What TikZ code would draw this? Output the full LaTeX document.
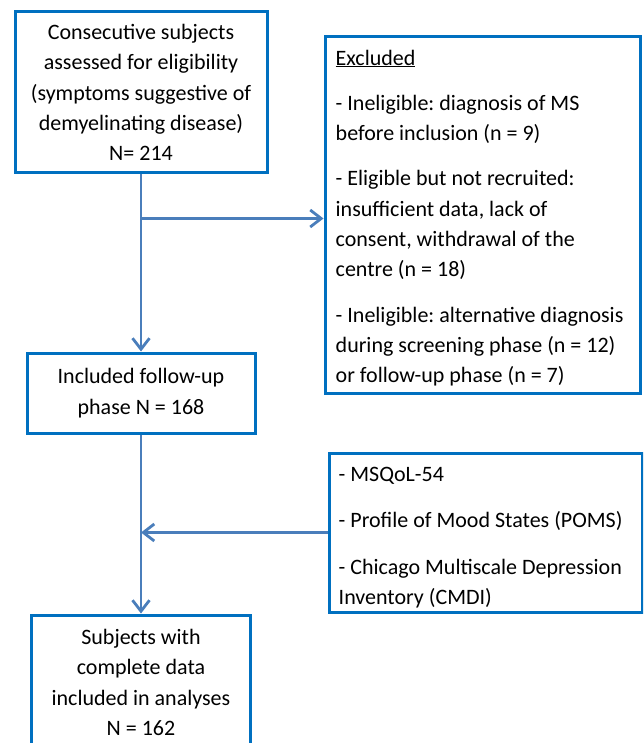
\documentclass[tikz,border=0pt]{standalone}
\usepackage{fontspec}
\setmainfont{Carlito}
\frenchspacing
\usetikzlibrary{arrows.meta}
\definecolor{boxblue}{RGB}{0,112,192}
\definecolor{lineblue}{RGB}{74,126,187}
\begin{document}
\begin{tikzpicture}[x=1pt,y=-1pt,
  frame/.style={draw=boxblue,line width=3pt,rectangle,inner sep=0pt},
  txt/.style={inner sep=0pt,font=\fontsize{22}{30.3}\selectfont},
  cbox/.style={frame,txt,align=center},
  ltxt/.style={txt,align=left,anchor=west},
  conn/.style={draw=lineblue,line width=2.8pt,
    -{Straight Barb[length=11pt,width=17pt,line width=2.8pt]}}]
\useasboundingbox (0,0) rectangle (643,743);
\clip (0,0) rectangle (643,743);
\node[cbox,minimum width=252pt,minimum height=161pt] (b1) at (141,92.5)
  {Consecutive subjects\\assessed for eligibility\\(symptoms suggestive of\\demyelinating disease)\\N= 214};
\node[frame,minimum width=315pt,minimum height=356pt] (exc) at (482.5,215) {};
\node[ltxt] (exct) at ([xshift=12pt,yshift=-3pt]exc.west)
  {\underline{Excluded}\\[15pt]
   - Ineligible: diagnosis of MS\\before inclusion (n = 9)\\[15pt]
   - Eligible but not recruited:\\insufficient data, lack of\\consent, withdrawal of the\\centre (n = 18)\\[15pt]
   - Ineligible: alternative diagnosis\\during screening phase (n = 12)\\or follow-up phase (n = 7)};
\node[cbox,minimum width=228pt,minimum height=80pt] (b2) at (141,393)
  {Included follow-up\\phase N = 168};
\node[frame,minimum width=313pt,minimum height=159pt] (ms) at (485.5,532.5) {};
\node[ltxt] (mst) at ([xshift=11pt,yshift=-5pt]ms.west)
  {- MSQoL-54\\[16pt]
   - Profile of Mood States (POMS)\\[16pt]
   - Chicago Multiscale Depression\\Inventory (CMDI)};
\node[cbox,minimum width=219pt,minimum height=135pt] (b3) at (141,682.5)
  {Subjects with\\complete data\\included in analyses\\N = 162};
\coordinate (j1) at ([yshift=-44pt]b1.south);
\path[conn] (b1.south) -- (b1.south |- b2.north);
\path[conn] (j1) -- (exc.west |- j1);
\path[conn] (b2.south) -- (b2.south |- b3.north);
\path[conn] (ms.west) -- (b2.south |- ms.west);
\end{tikzpicture}
\end{document}
